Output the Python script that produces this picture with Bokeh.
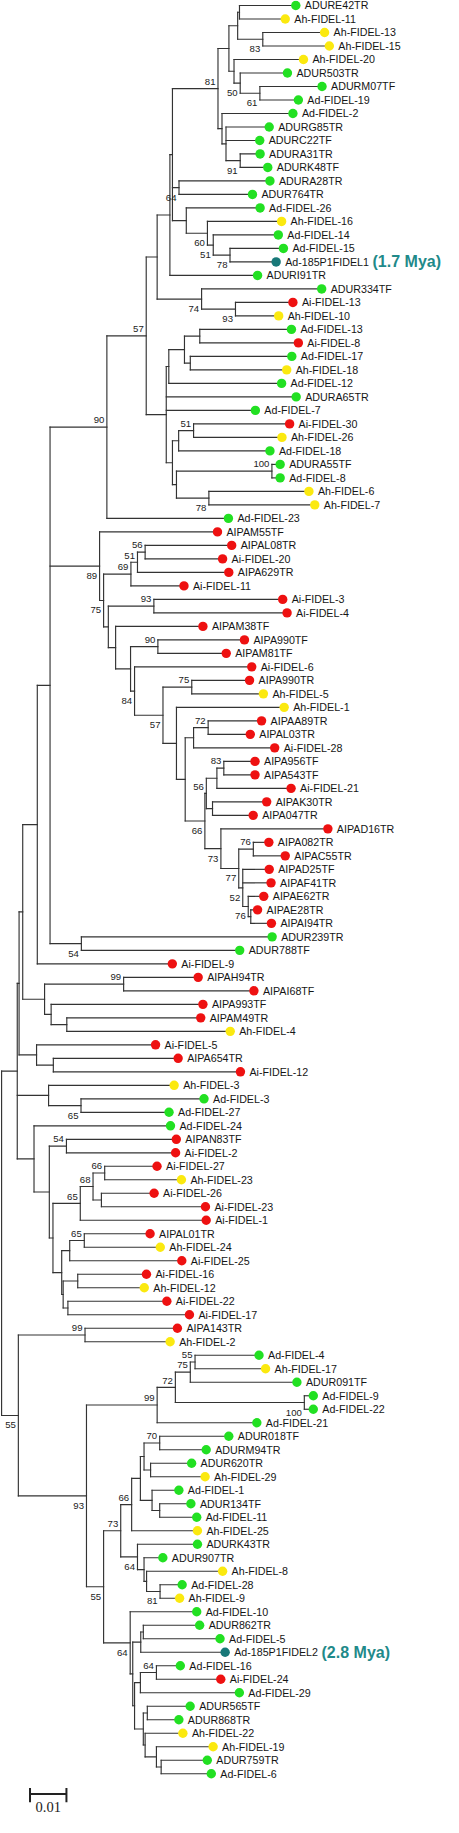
from bokeh.plotting import figure
from bokeh.models import ColumnDataSource, Range1d
from bokeh.embed import file_html
from bokeh.resources import INLINE
from bokeh.core.properties import value

# ---------------------------------------------------------------
# DATA: tree in Newick-like form. Leaf / internal label, then
# ":" depth from the root in units of 0.001 substitutions/site.
# Internal labels are bootstrap values.
# ---------------------------------------------------------------
clade_a2 = "((ADURE42TR:79.5,Ah-FIDEL-11:76.6):65.3,(Ah-FIDEL-13:87.4,Ah-FIDEL-15:88.7)83:71.7):64.8"
clade_a3 = "(Ah-FIDEL-20:81.6,(ADUR503TR:77.2,(ADURM07TF:86.7,Ad-FIDEL-19:80.2)61:70.9)50:65.5):63.8"
clade_x = "(Ad-FIDEL-2:78.7,(ADURG85TR:72.2,ADURC22TF:69.6,(ADURA31TR:69.7,ADURK48TF:71.8)91:65.5):61.6):60.5"
clade_64 = "(ADURA28TR:72.4,ADUR764TR:67.6)64:48.7"
clade_r = ("(Ad-FIDEL-26:69.7,(Ah-FIDEL-16:75.6,(Ad-FIDEL-14:74.7,"
           "(Ad-FIDEL-15:76.1,Ad-185P1FIDEL1:74.1)78:62.7)51:58.1)60:56.5):50.7")
clade_w = "(ADUR334TF:86.6,(Ai-FIDEL-13:78.7,Ah-FIDEL-10:74.8)93:64.2)74:54.9"
clade_b4 = ("(((Ad-FIDEL-13:78.3,Ai-FIDEL-8:80.2):54.4,(Ad-FIDEL-17:78.4,Ah-FIDEL-18:77.0):51.8):50.2,"
            "Ad-FIDEL-12:75.6):45.9")
clade_b10 = ("(((Ai-FIDEL-30:77.8,Ah-FIDEL-26:75.7)51:52.7,Ad-FIDEL-18:72.4):48.6,"
             "((ADURA55TF:75.2,Ad-FIDEL-8:75.2)100:74.2,(Ah-FIDEL-6:83.1,Ah-FIDEL-7:84.7)78:56.9):48.0):46.9")

clade_a69 = "(((AIPAL08TR:61.9,Ai-FIDEL-20:59.4)56:39.4,AIPA629TR:61.1)51:37.3,Ai-FIDEL-11:48.8)69:35.5"
clade_oo = ("(AIPAD16TR:88.3,((AIPA082TR:72.1,AIPAC55TR:76.6)76:69.1,"
            "(AIPAD25TF:72.2,AIPAF41TR:72.7,(AIPAE62TR:70.7,(AIPAE28TR:69.0,AIPAI94TR:72.8):68.4)76:67.7)52:66.2)77:65.1)73:60.2")
clade_56 = ("(((AIPA956TF:68.3,AIPA543TF:68.3)83:61.0,Ai-FIDEL-21:78.2):59.1,"
            "(AIPAK30TR:71.5,AIPA047TR:67.8):57.9)56:56.2")
clade_rr = f"(((AIPAA89TR:70.1,AIPAL03TR:67.0)72:56.7,Ai-FIDEL-28:73.7):52.7,({clade_56},{clade_oo})66:55.8):50.4"
clade_ll = f"((AIPA990TR:66.8,Ah-FIDEL-5:70.6)75:52.2,(Ah-FIDEL-1:76.3,{clade_rr}):48.0)57:44.3"
clade_jj = f"((AIPA990TF:65.4,AIPAM81TF:60.4)90:42.9,(Ai-FIDEL-6:67.4,{clade_ll})84:36.5):35.4"
clade_hh = f"((Ai-FIDEL-3:75.9,Ai-FIDEL-4:77.1)93:41.8,(AIPAM38TF:54.0,{clade_jj}):31.3):29.3"
clade_ff = f"(AIPAM55TF:58.0,({clade_a69},{clade_hh})75:28.0)89:26.9"

clade_yy = ("((AIPAH94TR:52.7,AIPAI68TF:68.0)99:33.5,"
            "(AIPA993TF:54.0,(AIPAM49TR:53.4,Ah-FIDEL-4:61.5):17.9):13.6):11.8")
clade_i5 = "(Ai-FIDEL-5:41.0,(AIPA654TR:47.2,Ai-FIDEL-12:64.3):14.2):9.6"
clade_h3 = "(Ah-FIDEL-3:46.1,(Ad-FIDEL-3:54.3,Ad-FIDEL-27:44.7)65:21.8):12.9"
clade_65 = ("(((Ai-FIDEL-27:41.4,Ah-FIDEL-23:48.1)66:28.3,(Ai-FIDEL-26:40.6,Ai-FIDEL-23:54.7):27.4)68:25.1,"
            "Ai-FIDEL-1:54.9)65:21.6")
clade_61 = ("(((AIPAL01TR:39.5,Ah-FIDEL-24:42.3)65:22.7,Ai-FIDEL-25:48.2):18.7,"
            "((Ai-FIDEL-16:38.5,Ah-FIDEL-12:37.9):20.9,(Ai-FIDEL-22:44.1,Ai-FIDEL-17:50.3):18.2):16.9):16.5")
clade_d24 = f"(Ad-FIDEL-24:45.1,((AIPAN83TF:46.7,Ai-FIDEL-2:46.5)54:17.8,({clade_65},{clade_61}):14.1):13.1):8.9"

clade_99c = "(AIPA143TR:47.0,Ah-FIDEL-2:45.0)99:22.9"
clade_99b = ("((((Ad-FIDEL-4:69.4,Ah-FIDEL-17:71.2)55:53.1,ADUR091TF:79.8)75:51.8,"
             "(Ad-FIDEL-9:84.3,Ad-FIDEL-22:84.3)100:83.1)72:47.7,Ad-FIDEL-21:68.8)99:42.7")
clade_73 = ("(((((ADUR018TF:61.1,ADURM94TR:54.9)70:43.4,(ADUR620TR:50.9,Ah-FIDEL-29:54.6):40.9):39.1,"
            "(Ad-FIDEL-1:47.4,(ADUR134TF:50.7,Ad-FIDEL-11:52.3):43.4):41.3):38.1,Ah-FIDEL-25:52.5)66:35.7,"
            "(ADURK43TR:52.5,(ADUR907TR:43.0,(Ah-FIDEL-8:59.4,(Ad-FIDEL-28:48.3,Ah-FIDEL-9:47.6)81:43.5):39.8):39.1)64:37.3)73:32.7")
clade_64c = ("(Ad-FIDEL-10:52.3,(((ADUR862TR:53.1,Ad-FIDEL-5:58.7):38.9,Ad-185P1FIDEL2:60.1):38.2,"
             "(((Ad-FIDEL-16:47.8,Ai-FIDEL-24:58.9)64:42.5,Ad-FIDEL-29:64.0):38.1,"
             "((ADUR565TF:50.5,ADUR868TR:47.4):40.0,(Ah-FIDEL-22:48.5,(Ah-FIDEL-19:56.8,"
             "(ADUR759TR:55.2,Ad-FIDEL-6:56.3):43.8):42.5):39.4):38.9):36.5):36.0)64:35.3")

clade_top = f"((({clade_a2},{clade_a3}):62.4,{clade_x})81:59.4,{clade_64},{clade_r}):46.9"
clade_cc = (f"(((({clade_top},ADURI91TR:69.0):46.2,{clade_w}):42.7,"
            f"({clade_b4},ADURA65TR:79.6,Ad-FIDEL-7:68.4,{clade_b10}):45.2)57:39.7,Ad-FIDEL-23:61.0)90:28.9")
clade_dd = f"({clade_cc},{clade_ff},(ADUR239TR:73.0,ADUR788TF:64.1)54:21.9):13.3"
clade_upper = f"(((({clade_dd},Ai-FIDEL-9:45.6):9.8,{clade_yy}):5.8,{clade_i5}):4.8,{clade_h3},{clade_d24}):4.3"
clade_lower = f"({clade_99c},({clade_99b},({clade_73},{clade_64c})55:28.0)93:23.3)55:4.6"
tree = f"({clade_upper},{clade_lower}):0;"

# dot colours by species prefix (first match wins)
species_colours = [("Ad-185P1", "#187878"), ("Ad", "#22e022"), ("AD", "#22e022"),
                   ("Ah", "#fbe90f"), ("Ai", "#ee1111"), ("AI", "#ee1111")]
leaf_notes = {"Ad-185P1FIDEL1": "(1.7 Mya)", "Ad-185P1FIDEL2": "(2.8 Mya)"}
scale_length = 0.01
scale_label = "0.01"


# ---------------------------------------------------------------
def parse_tree(s):
    s = s.strip().rstrip(";")
    pos = 0

    def node():
        nonlocal pos
        children = []
        if s[pos] == "(":
            pos += 1
            while True:
                children.append(node())
                if s[pos] == ",":
                    pos += 1
                    continue
                pos += 1  # ')'
                break
        st = pos
        while pos < len(s) and s[pos] not in ":,()":
            pos += 1
        label = s[st:pos]
        depth = 0.0
        if pos < len(s) and s[pos] == ":":
            pos += 1
            st = pos
            while pos < len(s) and s[pos] not in ",()":
                pos += 1
            depth = float(s[st:pos]) * 1e-3
        return {"label": label, "depth": depth, "children": children}

    return node()


root = parse_tree(tree)
leaves = []


def place(n):
    if not n["children"]:
        n["y"] = len(leaves)
        leaves.append(n)
    else:
        for c in n["children"]:
            place(c)
        n["y"] = (n["children"][0]["y"] + n["children"][-1]["y"]) / 2


place(root)

seg = dict(x0=[], y0=[], x1=[], y1=[])
boot_up = dict(x=[], y=[], t=[])
boot_dn = dict(x=[], y=[], t=[])


def collect(n, pdepth, first):
    d = n["depth"]
    if pdepth is not None:
        seg["x0"].append(pdepth); seg["x1"].append(d)
        seg["y0"].append(n["y"]); seg["y1"].append(n["y"])
    if n["children"]:
        seg["x0"].append(d); seg["x1"].append(d)
        seg["y0"].append(n["children"][0]["y"]); seg["y1"].append(n["children"][-1]["y"])
        for i, c in enumerate(n["children"]):
            collect(c, d, i == 0)
        if n["label"]:
            tgt = boot_up if first else boot_dn
            tgt["x"].append(d); tgt["y"].append(n["y"]); tgt["t"].append(n["label"])


collect(root, None, True)

W, H = 443, 1817
PX_PER_SUB = 3643.0
x0 = -0.0003
x_range = Range1d(x0, x0 + W / PX_PER_SUB)
row_px = 13.498
top_px = 4.97
n_last = len(leaves) - 1
y_range = Range1d(n_last + (H - top_px - n_last * row_px) / row_px, -top_px / row_px)

p = figure(width=W, height=H, x_range=x_range, y_range=y_range,
           output_backend="svg", toolbar_location=None,
           x_axis_location=None, y_axis_location=None, min_border=0)
p.grid.visible = False
p.outline_line_color = None
p.background_fill_color = "white"

p.segment(x0="x0", y0="y0", x1="x1", y1="y1", source=ColumnDataSource(seg),
          line_color="#333333", line_width=1.15, line_cap="square")


def colour_for(name):
    for pre, col in species_colours:
        if name.startswith(pre):
            return col
    return "#888888"


dot_dx = 4.6 / PX_PER_SUB
leaf_src = ColumnDataSource(dict(
    x=[l["depth"] for l in leaves],
    xd=[l["depth"] + dot_dx for l in leaves],
    y=[l["y"] for l in leaves],
    name=[l["label"] for l in leaves],
    col=[colour_for(l["label"]) for l in leaves],
))
p.scatter(x="xd", y="y", size=9.4, marker="circle", fill_color="col", line_color=None, source=leaf_src)
p.text(x="x", y="y", text="name", source=leaf_src, x_offset=13.6,
       text_baseline="middle", text_align="left",
       text_font=value("Liberation Sans"), text_font_size=value("10.7px"), text_color="#151515")

for src, dy in ((boot_up, -6.7), (boot_dn, 10.0)):
    p.text(x="x", y="y", text="t", source=ColumnDataSource(src), x_offset=-2.5, y_offset=dy,
           text_baseline="middle", text_align="right",
           text_font=value("Liberation Sans"), text_font_size=value("9.6px"), text_color="#222222")

notes = [l for l in leaves if l["label"] in leaf_notes]
p.text(x=[l["depth"] for l in notes], y=[l["y"] for l in notes],
       text=[leaf_notes[l["label"]] for l in notes], x_offset=101.0,
       text_baseline="middle", text_align="left", text_font=value("Liberation Sans"),
       text_font_style="bold", text_font_size=value("16px"), text_color="#1f8a8a")

# scale bar
sb_x = 0.0078
sb_y = n_last + 1.50
p.segment(x0=[sb_x, sb_x, sb_x + scale_length], y0=[sb_y, sb_y - 0.45, sb_y - 0.45],
          x1=[sb_x + scale_length, sb_x, sb_x + scale_length], y1=[sb_y, sb_y + 0.62, sb_y + 0.62],
          line_color="#222222", line_width=2)
p.text(x=[sb_x + scale_length / 2], y=[sb_y + 0.98], text=[scale_label],
       text_baseline="middle", text_align="center", text_font=value("Liberation Serif"),
       text_font_size=value("14.5px"), text_color="#222222")

open("out.html", "w").write(file_html(p, INLINE))
